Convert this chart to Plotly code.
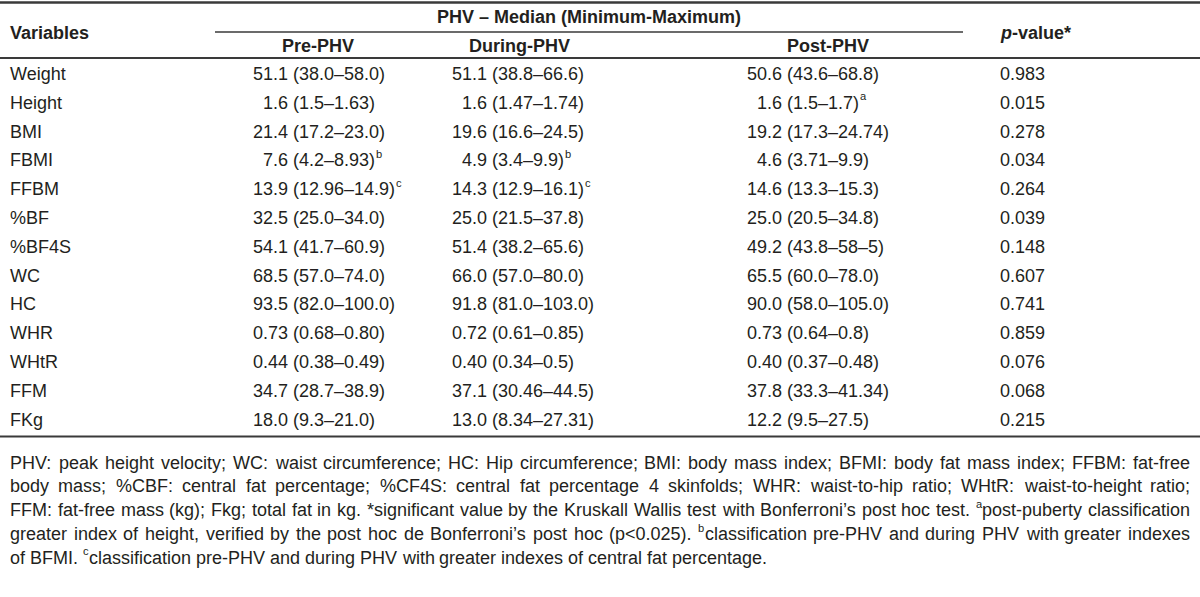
import re
import plotly.graph_objects as go

# ---------------- data ----------------
variables = ["Weight", "Height", "BMI", "FBMI", "FFBM", "%BF", "%BF4S", "WC", "HC",
             "WHR", "WHtR", "FFM", "FKg"]
pre_phv = ["51.1 (38.0–58.0)", "\u00a0\u00a01.6 (1.5–1.63)", "21.4 (17.2–23.0)",
           "\u00a0\u00a07.6 (4.2–8.93)", "13.9 (12.96–14.9)", "32.5 (25.0–34.0)",
           "54.1 (41.7–60.9)", "68.5 (57.0–74.0)", "93.5 (82.0–100.0)",
           "0.73 (0.68–0.80)", "0.44 (0.38–0.49)", "34.7 (28.7–38.9)", "18.0 (9.3–21.0)"]
during_phv = ["51.1 (38.8–66.6)", "\u00a0\u00a01.6 (1.47–1.74)", "19.6 (16.6–24.5)",
              "\u00a0\u00a04.9 (3.4–9.9)", "14.3 (12.9–16.1)", "25.0 (21.5–37.8)",
              "51.4 (38.2–65.6)", "66.0 (57.0–80.0)", "91.8 (81.0–103.0)",
              "0.72 (0.61–0.85)", "0.40 (0.34–0.5)", "37.1 (30.46–44.5)", "13.0 (8.34–27.31)"]
post_phv = ["50.6 (43.6–68.8)", "\u00a0\u00a01.6 (1.5–1.7)", "19.2 (17.3–24.74)",
            "\u00a0\u00a04.6 (3.71–9.9)", "14.6 (13.3–15.3)", "25.0 (20.5–34.8)",
            "49.2 (43.8–58–5)", "65.5 (60.0–78.0)", "90.0 (58.0–105.0)",
            "0.73 (0.64–0.8)", "0.40 (0.37–0.48)", "37.8 (33.3–41.34)", "12.2 (9.5–27.5)"]
pre_sup = ["", "", "", "b", "c", "", "", "", "", "", "", "", ""]
during_sup = ["", "", "", "b", "c", "", "", "", "", "", "", "", ""]
post_sup = ["", "a", "", "", "", "", "", "", "", "", "", "", ""]
p_values = ["0.983", "0.015", "0.278", "0.034", "0.264", "0.039", "0.148", "0.607",
            "0.741", "0.859", "0.076", "0.068", "0.215"]

group_header = "PHV – Median (Minimum-Maximum)"
col_headers = ["Pre-PHV", "During-PHV", "Post-PHV"]
var_header = "Variables"
p_header = "<i>p</i>-value*"

# a word written as "^x..." starts with superscript letter x
footnote_lines = [
    "PHV: peak height velocity; WC: waist circumference; HC: Hip circumference; BMI: body mass index; BFMI: body fat mass index; FFBM: fat-free",
    "body mass; %CBF: central fat percentage; %CF4S: central fat percentage 4 skinfolds; WHR: waist-to-hip ratio; WHtR: waist-to-height ratio;",
    "FFM: fat-free mass (kg); Fkg; total fat in kg. *significant value by the Kruskall Wallis test with Bonferroni’s post hoc test. ^apost-puberty classification",
    "greater index of height, verified by the post hoc de Bonferroni’s post hoc (p<0.025). ^bclassification pre-PHV and during PHV with greater indexes",
    "of BFMI. ^cclassification pre-PHV and during PHV with greater indexes of central fat percentage.",
]

# ---------------- style / layout ----------------
W, H = 1200, 597
FONT = "Liberation Sans, Arial, Helvetica, sans-serif"
TXT = "#231f20"
BODY = 18
FOOT = 18
SUP_SCALE = 0.62
ROW0, DY = 74, 28.8
X_VAR = 10
X_COLS = [253, 452, 747]
X_HEAD = [318, 519, 828]
X_P = 1000

# Arial / Liberation Sans advance widths (per 1000 em)
AW = {' ': 278, '\u00a0': 278, '!': 278, '%': 889, "'": 191, '(': 333, ')': 333, '*': 389,
      ',': 278, '-': 333, '.': 278, '/': 278, ':': 278, ';': 278, '<': 584, '=': 584,
      '>': 584, '?': 556, '’': 222, '–': 556,
      'A': 667, 'B': 667, 'C': 722, 'D': 722, 'E': 667, 'F': 611, 'G': 778, 'H': 722,
      'I': 278, 'J': 500, 'K': 667, 'L': 556, 'M': 833, 'N': 722, 'O': 778, 'P': 667,
      'Q': 778, 'R': 722, 'S': 667, 'T': 611, 'U': 722, 'V': 667, 'W': 944, 'X': 667,
      'Y': 667, 'Z': 611,
      'a': 556, 'b': 556, 'c': 500, 'd': 556, 'e': 556, 'f': 278, 'g': 556, 'h': 556,
      'i': 222, 'j': 222, 'k': 500, 'l': 222, 'm': 833, 'n': 556, 'o': 556, 'p': 556,
      'q': 556, 'r': 333, 's': 500, 't': 278, 'u': 556, 'v': 500, 'w': 722, 'x': 500,
      'y': 500, 'z': 500}


def text_width(s, size):
    return sum(AW.get(c, 556) for c in s) * size / 1000.0


annotations = []
shapes = []


def add_text(x, y, text, size=BODY, anchor="left", bold=False):
    if bold:
        text = "<b>" + text + "</b>"
    annotations.append(dict(x=x, y=y, xref="x", yref="y", text=text, showarrow=False,
                            xanchor=anchor, yanchor="middle", borderpad=0, borderwidth=0,
                            font=dict(family=FONT, size=size, color=TXT)))


def add_sup(x, y, letter, size):
    add_text(x, y - size * 0.36, letter, size=size * SUP_SCALE)


def hline(y, x0, x1, w):
    shapes.append(dict(type="line", xref="x", yref="y", x0=x0, x1=x1, y0=y, y1=y,
                       line=dict(color="#3a3a3a", width=w)))


# header
add_text(X_VAR, 33, var_header, bold=True)
add_text(589, 17, group_header, anchor="center", bold=True)
for xh, h in zip(X_HEAD, col_headers):
    add_text(xh, 46, h, anchor="center", bold=True)
add_text(X_P, 33, p_header, bold=True)

# body
for i, v in enumerate(variables):
    y = ROW0 + i * DY
    add_text(X_VAR, y, v)
    for xc, col, sup in zip(X_COLS, [pre_phv, during_phv, post_phv],
                            [pre_sup, during_sup, post_sup]):
        add_text(xc, y, col[i])
        if sup[i]:
            add_sup(xc + text_width(col[i], BODY) + 0.5, y, sup[i], BODY)
    add_text(X_P, y, p_values[i])

# rules
hline(2.5, 0, W, 2.5)
hline(32, 215, 963, 1.5)
hline(58, 0, W, 2)
y_last = ROW0 + (len(variables) - 1) * DY
hline(y_last + 17, 0, W, 2)

# justified footnote
FN_Y0, FN_DY = y_last + 43, 23.8
LEFT, RIGHT = 10, 1190


def word_width(w_):
    if w_.startswith("^"):
        return text_width(w_[1], FOOT) * SUP_SCALE + text_width(w_[2:], FOOT)
    return text_width(w_, FOOT)


for li, line in enumerate(footnote_lines):
    y = FN_Y0 + li * FN_DY
    words = line.split(" ")
    widths = [word_width(w_) for w_ in words]
    if li == len(footnote_lines) - 1:
        gap = text_width(" ", FOOT)
    else:
        gap = (RIGHT - LEFT - sum(widths)) / (len(words) - 1)
    x = LEFT
    for w_, ww in zip(words, widths):
        if w_.startswith("^"):
            add_sup(x, y, w_[1], FOOT)
            sw = text_width(w_[1], FOOT) * SUP_SCALE
            add_text(x + sw, y, w_[2:], size=FOOT)
        else:
            add_text(x, y, w_, size=FOOT)
        x += ww + gap

fig = go.Figure()
fig.update_layout(
    width=W, height=H, margin=dict(l=0, r=0, t=0, b=0),
    paper_bgcolor="white", plot_bgcolor="white",
    xaxis=dict(range=[0, W], visible=False, fixedrange=True),
    yaxis=dict(range=[H, 0], visible=False, fixedrange=True),
    annotations=annotations, shapes=shapes, showlegend=False,
)
fig.write_html("out.html", config={"displayModeBar": False},
               post_script="document.body.style.margin='0';document.body.style.padding='0';"
                           "document.body.style.overflow='hidden';")
